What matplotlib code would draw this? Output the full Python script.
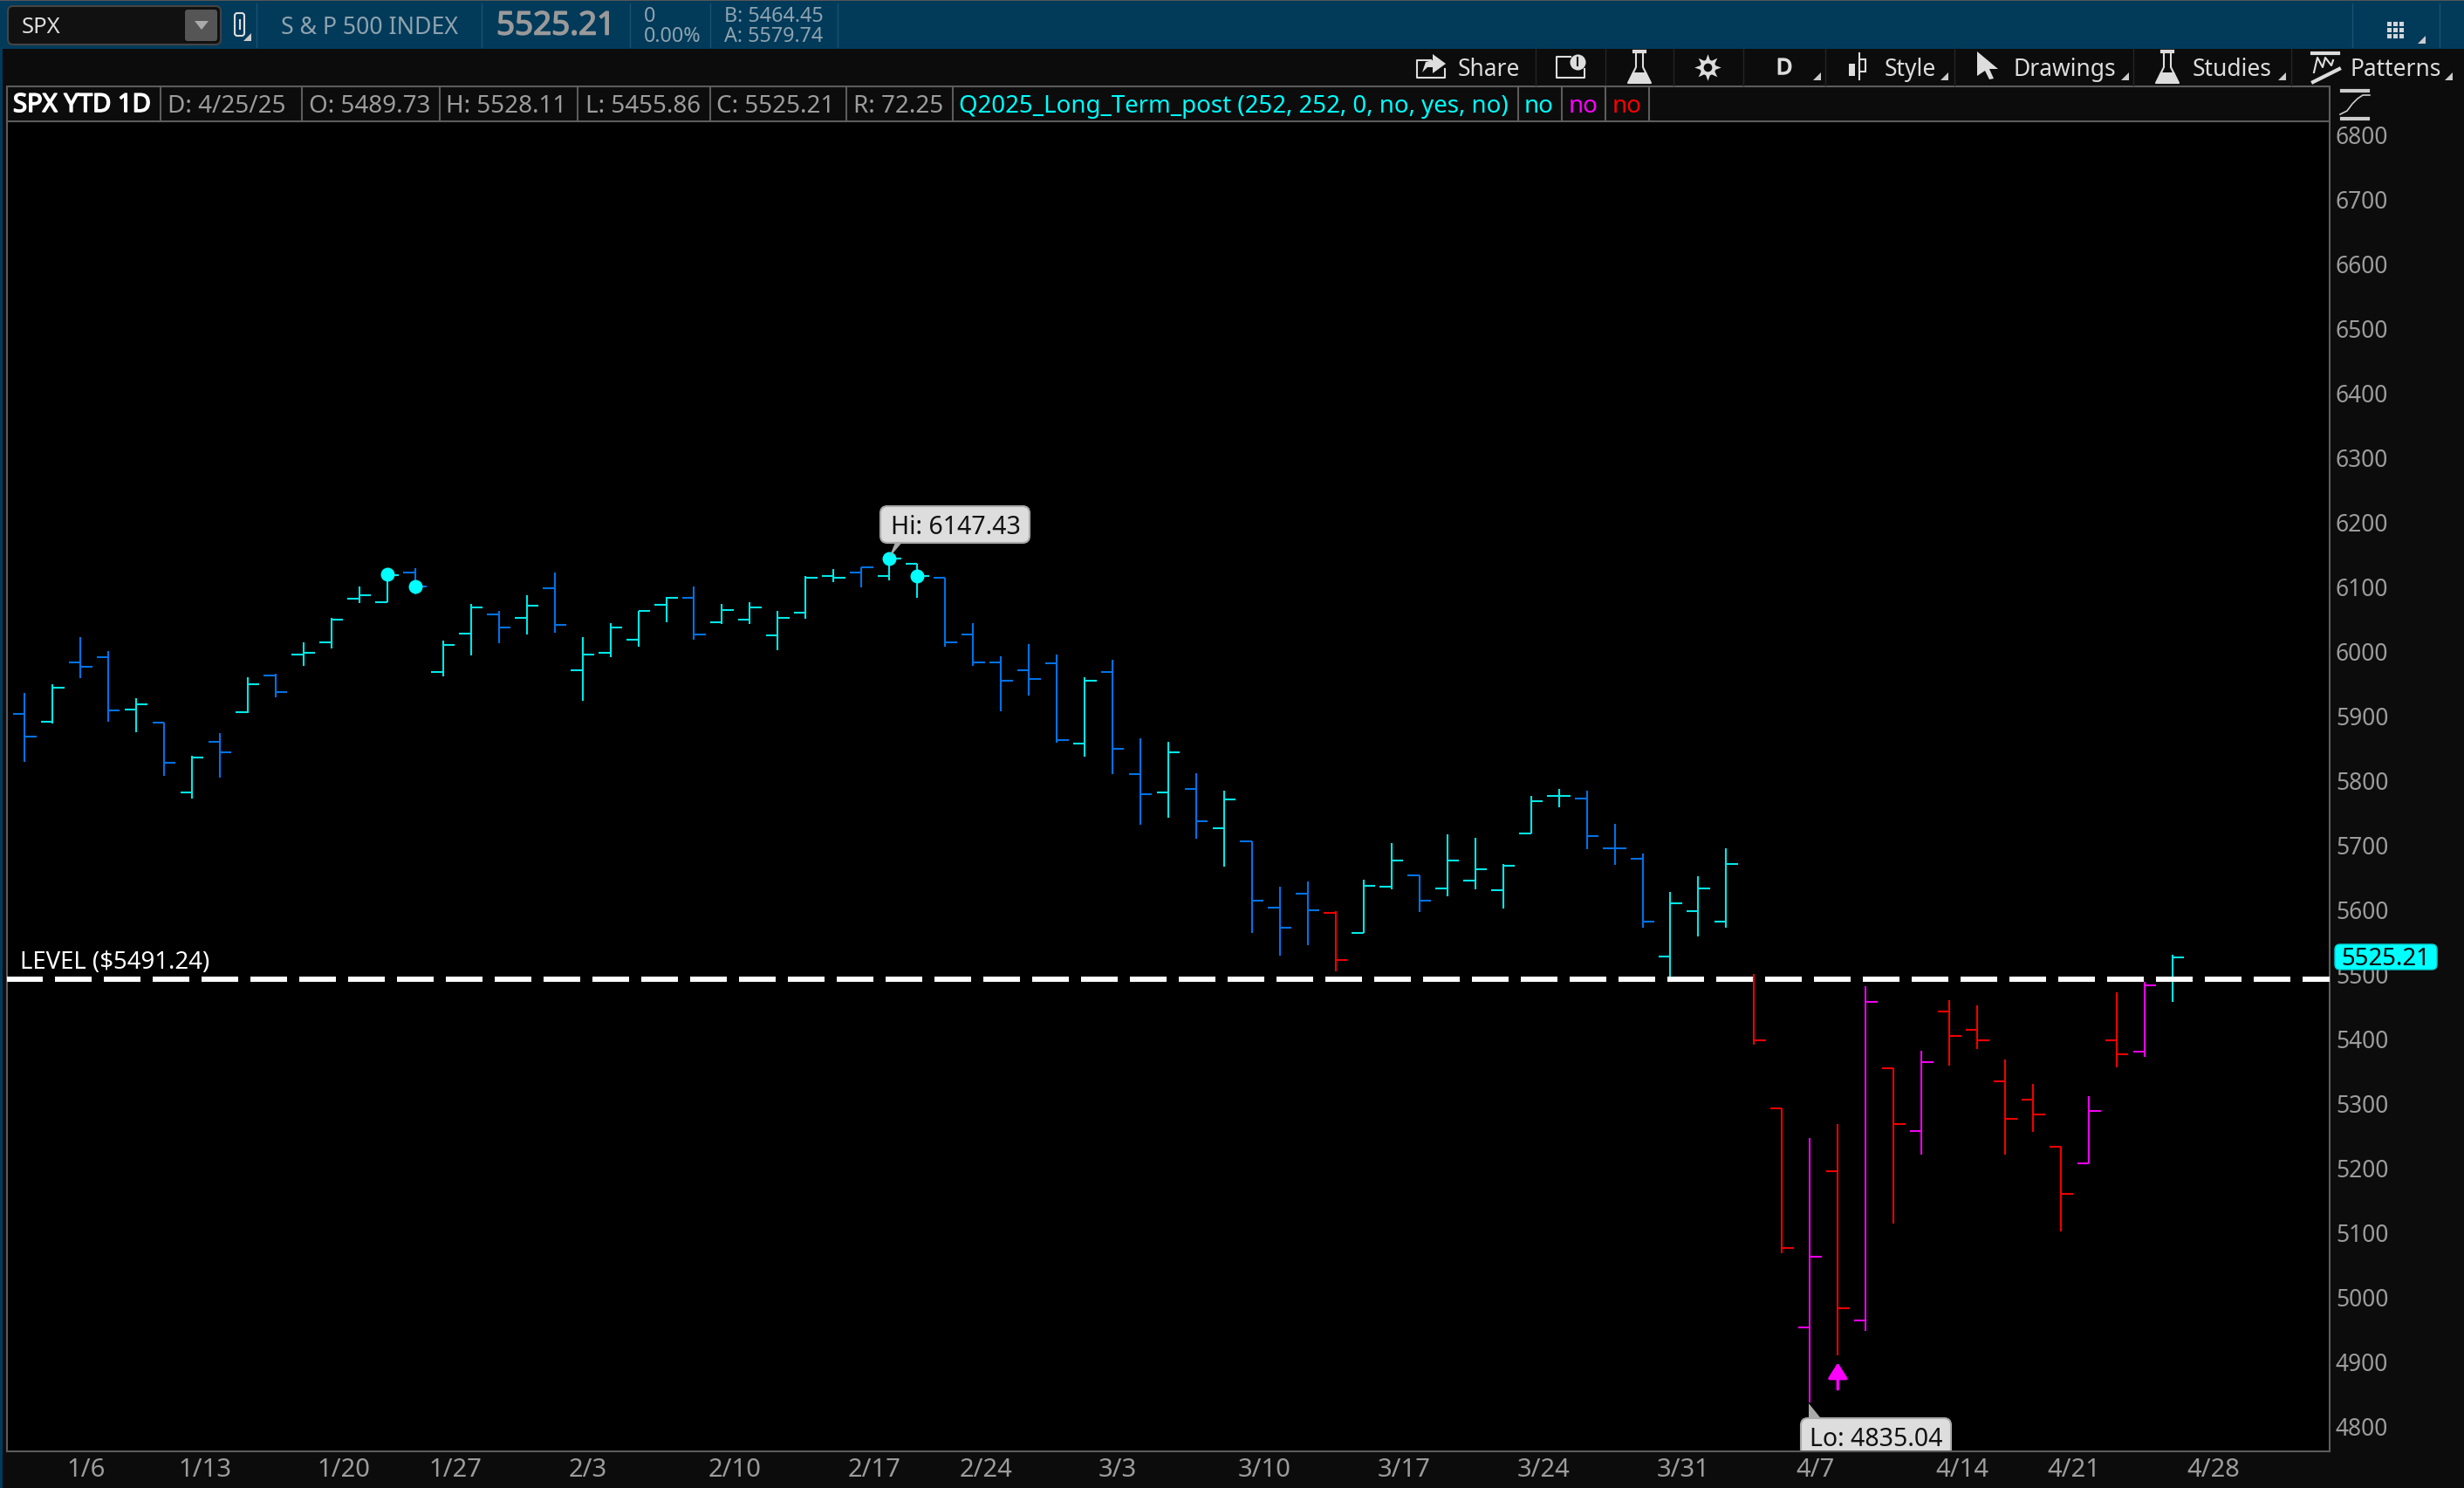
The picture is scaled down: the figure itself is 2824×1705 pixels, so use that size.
import numpy as np
import matplotlib
matplotlib.use("Agg")
import matplotlib.pyplot as plt
import matplotlib.patheffects as pe
from matplotlib.patches import Rectangle, FancyBboxPatch, Polygon

plt.rcParams['font.family'] = ['Noto Sans', 'DejaVu Sans']

# daily bars
opens = [5901, 5890, 5982, 5990, 5909, 5888, 5780, 5858, 5904, 5961, 5993, 6012, 6080, 6074, 6120, 5966, 6026, 6055, 6050, 6096,
         5969, 5996, 6017, 6071, 6082, 6044, 6047, 6023, 6058, 6115, 6120, 6115, 6134, 6112, 6025, 5982, 5969, 5980, 5855, 5966,
         5809, 5780, 5785, 5725, 5704, 5601, 5623, 5593, 5563, 5634, 5652, 5631, 5644, 5628, 5717, 5774, 5771, 5693, 5677, 5526,
         5596, 5580, 5490, 5291, 4952, 5193, 4963, 5353, 5255, 5441, 5412, 5333, 5304, 5231, 5206, 5396, 5379, 5489.73]
highs = [5934, 5948, 6021, 5999, 5926, 5888, 5837, 5872, 5958, 5964, 6013, 6050, 6099, 6118, 6127, 6015, 6072, 6061, 6086, 6121,
         6021, 6042, 6061, 6083, 6099, 6072, 6075, 6061, 6115, 6126, 6129, 6147.43, 6134, 6112, 6042, 5991, 6010, 5994, 5958, 5985,
         5864, 5858, 5810, 5783, 5704, 5634, 5642, 5596, 5645, 5702, 5652, 5715, 5710, 5669, 5775, 5785, 5783, 5731, 5685, 5626,
         5650, 5694, 5499, 5291, 5245, 5266, 5480, 5353, 5380, 5459, 5450, 5367, 5329, 5231, 5310, 5470, 5487, 5528.11]
lows = [5827, 5887, 5957, 5890, 5873, 5806, 5771, 5803, 5903, 5927, 5976, 6003, 6073, 6074, 6087, 5960, 5992, 6011, 6025, 6027,
        5922, 5989, 6006, 6044, 6016, 6041, 6041, 6000, 6049, 6106, 6098, 6108, 6081, 6006, 5976, 5906, 5930, 5857, 5835, 5808,
        5730, 5741, 5708, 5665, 5562, 5527, 5543, 5503, 5563, 5630, 5595, 5619, 5630, 5600, 5717, 5757, 5692, 5668, 5571, 5487,
        5557, 5571, 5389, 5067, 4835.04, 4908, 4946, 5113, 5219, 5357, 5383, 5219, 5254, 5100, 5206, 5354, 5370, 5455.86]
closes = [5866, 5942, 5974, 5907, 5917, 5826, 5834, 5842, 5947, 5936, 5996, 6047, 6085, 6117, 6099, 6009, 6066, 6036, 6069, 6039,
          5993, 6036, 6061, 6082, 6025, 6063, 6066, 6050, 6112, 6112, 6128, 6142, 6115, 6012, 5982, 5953, 5955, 5861, 5953, 5847,
          5777, 5842, 5736, 5769, 5612, 5571, 5598, 5520, 5636, 5674, 5612, 5674, 5661, 5666, 5766, 5774, 5712, 5693, 5580, 5609,
          5631, 5669, 5396, 5074, 5061, 4982, 5455, 5266, 5363, 5403, 5396, 5274, 5282, 5158, 5287, 5374, 5482, 5525.21]
# study colour of each bar: c cyan, b blue, r red, m magenta
states = list("bcbbcbcbcbcccc" "b" "ccbcb" "ccccbcccccbcc" + "bbbbbcb"
              + "bcbc" + "bbbr" + "ccbccc" + "ccbbb" + "ccc" + "rrmrmrmrrrrrmrmc")

dot_bars = [13, 14, 31, 32]
dot_prices = [6118, 6099, 6142, 6115]

price_ticks = list(range(4800, 6900, 100))
week_bars = [2, 6, 11, 15, 20, 25, 30, 34, 39, 44, 49, 54, 59, 64, 69, 73, 78]
week_labels = ['1/6', '1/13', '1/20', '1/27', '2/3', '2/10', '2/17', '2/24', '3/3', '3/10',
               '3/17', '3/24', '3/31', '4/7', '4/14', '4/21', '4/28']
level_price = 5491.24

W, H = 2824, 1706
FRAME = '#0c0c0c'
RULE = '#5c5c5c'
GREY = '#9c9c9c'
colors = {'c': '#00e8e8', 'b': '#0072e6', 'r': '#f00000', 'm': '#f000f0'}

fig = plt.figure(figsize=(W / 100, H / 100), dpi=100, facecolor=FRAME)
ax = fig.add_axes([8 / W, (H - 1664) / H, (2670 - 8) / W, (1664 - 140) / H], facecolor='black')
ax.set_xlim(-0.63, 82.63)
ax.set_ylim(4759.7, 6819.2)

for i in range(len(opens)):
    col = colors[states[i]]
    ax.vlines(i, lows[i], highs[i], color=col, lw=1.5, zorder=3)
    ax.hlines(opens[i], i - 0.42, i, color=col, lw=1.5, zorder=2)
    ax.hlines(closes[i], i, i + 0.42, color=col, lw=1.5, zorder=3)

ax.plot(dot_bars, dot_prices, 'o', color='#00ffff', ms=11.5, mew=0, zorder=4)
ax.axhline(level_price, color='white', lw=4.32, linestyle=(0.17, (7, 7 / 3)), zorder=5)
ax.annotate('', xy=(65, 4897), xytext=(65, 4856),
            arrowprops=dict(arrowstyle='-|>,head_length=1.08,head_width=0.68', color='#ff00ff',
                            lw=2.5, mutation_scale=10, shrinkA=0, shrinkB=0))

ax.yaxis.tick_right()
ax.set_yticks(price_ticks)
ax.set_xticks(np.array(week_bars) - 0.5)
ax.set_xticklabels(week_labels, ha='left')
ax.tick_params(axis='y', length=0, pad=5, labelsize=19, labelcolor=GREY)
ax.tick_params(axis='x', length=0, pad=4, labelsize=21, labelcolor=GREY)
for s in ax.spines.values():
    s.set_color(RULE)
    s.set_linewidth(1.5)

# everything round the plot is drawn in pixel coordinates
ui = fig.add_axes([0, 0, 1, 1], facecolor='none')
ui.set_xlim(0, W)
ui.set_ylim(H, 0)
ui.axis('off')


def txt(x, y, s, color='#dddddd', size=19, bold=False, **kw):
    t = ui.text(x, y + 3.5, s, color=color, fontsize=size, va='center', **kw)
    if bold:
        # the Noto Sans here has no bold face
        t.set_path_effects([pe.withStroke(linewidth=1.1, foreground=color)])


def tri(x, y):
    ui.add_patch(Polygon([(x, y), (x + 9, y), (x + 9, y - 9)], color='#cccccc', lw=0))


def flask(x):
    ui.plot([x - 4, x - 4, x - 13, x + 13, x + 4, x + 4], [62, 78, 96, 96, 78, 62], color='#dddddd', lw=1.5)
    ui.add_patch(Polygon([(x - 8, 84), (x + 8, 84), (x + 13, 96), (x - 13, 96)], color='#dddddd', lw=0))
    ui.plot([x - 6, x + 6], [60, 60], color='#dddddd', lw=3)


# top bar
ui.add_patch(Rectangle((0, 1), W, 56, color='#023a5a', lw=0))
ui.add_patch(Rectangle((0, 0), W, 2, color='#555555', lw=0))
ui.add_patch(Rectangle((0, 57), 3, H - 57, color='#023a5a', lw=0))
ui.add_patch(FancyBboxPatch((12, 11), 238, 38, boxstyle='round,pad=3,rounding_size=6', fc='#111111', ec='#444444', lw=1.5))
ui.add_patch(FancyBboxPatch((213, 13), 35, 34, boxstyle='round,pad=1,rounding_size=3', fc='#555555', ec='none'))
ui.add_patch(Polygon([(223, 25), (239, 25), (231, 35)], color='#aaaaaa', lw=0))
ui.add_patch(FancyBboxPatch((270, 17), 9, 24, boxstyle='round,pad=1,rounding_size=3', fc='none', ec='#dddddd', lw=1.5))
ui.plot([274.5, 274.5], [24, 34], color='#dddddd', lw=1.5)
tri(279, 48)
for x in [294, 552, 722, 814, 960, 2696, 2796]:
    ui.plot([x, x], [5, 55], color='#1b5273', lw=1)
txt(25, 28, 'SPX', size=18.5)
txt(322, 28, 'S & P 500 INDEX', color='#8ea3ae', size=19.2)
txt(569, 28, '5525.21', color='#9a9a9a', size=26.5, bold=True)
txt(738, 15, '0', color='#8ea3ae', size=16.8)
txt(738, 38, '0.00%', color='#8ea3ae', size=16.8)
txt(830, 15, 'B: 5464.45', color='#8ea3ae', size=16.8)
txt(830, 38, 'A: 5579.74', color='#8ea3ae', size=16.8)
for gx in [2738, 2745, 2752]:
    for gy in [28, 35, 42]:
        ui.add_patch(Rectangle((gx - 2.5, gy - 2.5), 5, 5, color='#cfd8dc', lw=0))
tri(2771, 51)

# toolbar
for x in [1760, 1840, 1918, 1998, 2092, 2240, 2445, 2626]:
    ui.plot([x, x], [57, 99], color='#252525', lw=1)
txt(1671, 76, 'Share')
txt(2045, 76, 'D', ha='center', size=18, bold=True)
txt(2160, 76, 'Style')
txt(2307, 76, 'Drawings')
txt(2513, 76, 'Studies')
txt(2694, 76, 'Patterns')
for x in [2078, 2224, 2431, 2611, 2802]:
    tri(x, 93)
ui.plot([1640, 1624, 1624, 1656, 1656], [70, 70, 90, 90, 80], color='#dddddd', lw=1.5)
ui.add_patch(Polygon([(1630, 84), (1634, 72), (1642, 70), (1642, 63), (1657, 74), (1642, 85), (1642, 78), (1636, 78)],
                     color='#dddddd', lw=0))
ui.plot([1800, 1784, 1784, 1816, 1816], [66, 66, 90, 90, 80], color='#dddddd', lw=1.5)
ui.plot([1808], [72], 'o', color='#dddddd', ms=13, mew=0)
ui.plot([1808, 1808], [67, 76], color='#0c0c0c', lw=1.5)
ui.plot([1957], [78], marker=(8, 1, 0), color='#dddddd', ms=22, mew=0)
ui.plot([1957], [78], 'o', color='#dddddd', ms=13, mew=0)
ui.plot([1957], [78], 'o', color='#0c0c0c', ms=7, mew=0)
flask(1879)
flask(2484)
ui.plot([2131, 2131], [62, 92], color='#dddddd', lw=1.5)
ui.add_patch(Rectangle((2119, 74), 7, 14, color='#dddddd', lw=0))
ui.add_patch(Rectangle((2131, 69), 7, 14, fc='#0c0c0c', ec='#dddddd', lw=1.5))
ui.add_patch(Polygon([(2266, 60), (2290, 80), (2280, 80), (2285, 91), (2280, 92), (2275, 82), (2266, 88)], color='#dddddd', lw=0))
ui.plot([2650, 2680], [62, 62], color='#dddddd', lw=3)
ui.plot([2652, 2656, 2662, 2665, 2672, 2674], [84, 67, 78, 67, 76, 70], color='#dddddd', lw=1.5)
ui.plot([2651, 2681], [95, 80], color='#dddddd', lw=3)

# study bar
ui.add_patch(Rectangle((8, 100), 2662, 40, fc=FRAME, ec=RULE, lw=1.5))
for x in [184, 346, 504, 662, 814, 970, 1092, 1740, 1790, 1840, 1890]:
    ui.plot([x, x], [100, 140], color=RULE, lw=1.5)
txt(15, 118, 'SPX YTD 1D', color='white', size=21, bold=True)
for x, s in [(192, 'D: 4/25/25'), (354, 'O: 5489.73'), (511, 'H: 5528.11'), (671, 'L: 5455.86'),
             (821, 'C: 5525.21'), (978, 'R: 72.25')]:
    txt(x, 118, s, color=GREY, size=20)
txt(1099, 118, 'Q2025_Long_Term_post (252, 252, 0, no, yes, no)', color='#00ffff', size=19.9)
txt(1747, 118, 'no', color='#00ffff', size=20)
txt(1798, 118, 'no', color='#ff00ff', size=20)
txt(1848, 118, 'no', color='#ff0000', size=20)

# scale icon
ui.plot([2684, 2714], [105, 105], color='#cccccc', lw=3)
ui.plot([2684, 2714], [137, 137], color='#cccccc', lw=3)
ui.plot([2682, 2690, 2696, 2702, 2708, 2716], [132, 128, 120, 114, 110, 110], color='#cccccc', lw=1.2)

# labels on the plot
txt(23, 1099, 'LEVEL ($5491.24)', color='white', size=19.8)
ui.add_patch(FancyBboxPatch((2679, 1086), 111, 23, boxstyle='round,pad=3,rounding_size=6', fc='#00ffff', ec='#00d0d0', lw=1))
txt(2734, 1096, '5525.21', color='black', size=19.8, ha='center')

ui.add_patch(Polygon([(1019, 640), (1027, 620), (1036, 620)], fc='#aaaaaa', ec='none'))
ui.add_patch(FancyBboxPatch((1014, 586), 161, 32, boxstyle='round,pad=5,rounding_size=8', fc='#dddddd', ec='#aaaaaa', lw=1.5))
txt(1095, 601, 'Hi: 6147.43', color='#111111', size=20.5, ha='center')

ui.add_patch(Polygon([(2073, 1609), (2073, 1630), (2090, 1630)], fc='#aaaaaa', ec='none'))
lo_box = FancyBboxPatch((2069, 1631), 162, 50, boxstyle='round,pad=5,rounding_size=8', fc='#dddddd', ec='#aaaaaa', lw=1.5)
ui.add_patch(lo_box)
lo_box.set_clip_path(Rectangle((0, 0), W, 1663, transform=ui.transData))
txt(2150, 1646, 'Lo: 4835.04', color='#111111', size=20.5, ha='center')

fig.savefig('out.png', dpi=100, facecolor=FRAME)
